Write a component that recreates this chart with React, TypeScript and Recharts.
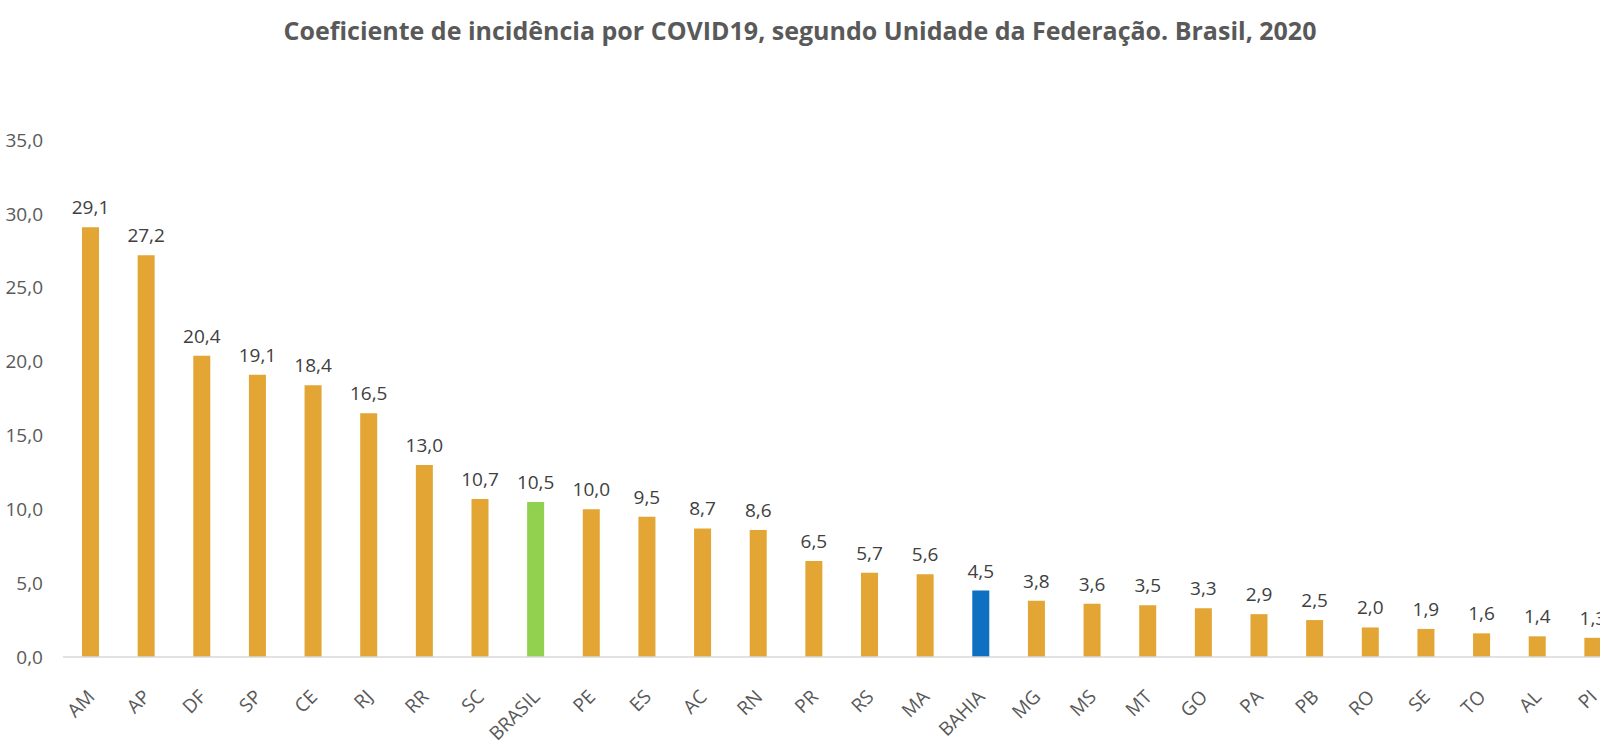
import React from 'react';
import { BarChart, Bar, XAxis, YAxis, Cell, LabelList } from 'recharts';

const states = [
  'AM', 'AP', 'DF', 'SP', 'CE', 'RJ', 'RR', 'SC', 'BRASIL', 'PE', 'ES', 'AC', 'RN', 'PR',
  'RS', 'MA', 'BAHIA', 'MG', 'MS', 'MT', 'GO', 'PA', 'PB', 'RO', 'SE', 'TO', 'AL', 'PI',
];
const incidence = [
  29.1, 27.2, 20.4, 19.1, 18.4, 16.5, 13.0, 10.7, 10.5, 10.0, 9.5, 8.7, 8.6, 6.5,
  5.7, 5.6, 4.5, 3.8, 3.6, 3.5, 3.3, 2.9, 2.5, 2.0, 1.9, 1.6, 1.4, 1.3,
];
const yTicks = [0, 5, 10, 15, 20, 25, 30, 35];

const TITLE = 'Coeficiente de incidência por COVID19, segundo Unidade da Federação. Brasil, 2020';
const FONT = '"Open Sans", sans-serif';

const data = states.map((uf, i) => ({ uf, value: incidence[i] }));

const barColor = (uf: string) => {
  if (uf === 'BRASIL') return '#92D050';
  if (uf === 'BAHIA') return '#0F6FC0';
  return '#E3A533';
};

// Excel style number: one decimal, comma separator
const fmt = (v: number) => v.toFixed(1).replace('.', ',');

const RotatedTick = (props: any) => {
  const { x, y, payload } = props;
  const px = x + 5;
  const py = y + 41;
  return (
    <text
      x={px}
      y={py}
      transform={`rotate(-45, ${px}, ${py})`}
      textAnchor="end"
      fill="#595959"
      fontSize={19}
      fontFamily={FONT}
    >
      {payload.value}
    </text>
  );
};

export default function App() {
  return (
    <div
      style={{
        position: 'fixed',
        left: 0,
        top: 0,
        width: 1600,
        height: 752,
        overflow: 'hidden',
        background: '#fff',
      }}
    >
      <div
        style={{
          position: 'absolute',
          top: 14,
          left: 0,
          width: 1600,
          textAlign: 'center',
          fontFamily: FONT,
          fontWeight: 700,
          fontSize: 25,
          color: '#595959',
          lineHeight: '32px',
          whiteSpace: 'nowrap',
        }}
      >
        {TITLE}
      </div>
      <div style={{ position: 'absolute', left: 0, top: 0 }}>
        <BarChart
          width={1640}
          height={752}
          data={data}
          margin={{ top: 140, right: 19, left: 0, bottom: 0 }}
        >
          <XAxis
            dataKey="uf"
            interval={0}
            axisLine={{ stroke: '#D9D9D9', strokeWidth: 1.5 }}
            tickLine={false}
            tickSize={0}
            tickMargin={0}
            height={95}
            tick={<RotatedTick />}
          />
          <YAxis
            width={63}
            domain={[0, 35]}
            ticks={yTicks}
            tickFormatter={fmt}
            axisLine={false}
            tickLine={false}
            tickSize={0}
            tickMargin={20}
            tick={{ fontSize: 19, fill: '#595959', fontFamily: FONT }}
          />
          <Bar dataKey="value" barSize={17} isAnimationActive={false}>
            {data.map((d) => (
              <Cell key={d.uf} fill={barColor(d.uf)} />
            ))}
            <LabelList
              dataKey="value"
              position="top"
              offset={13}
              formatter={(v: any) => fmt(Number(v))}
              style={{ fontSize: 19, fill: '#404040', fontFamily: FONT }}
            />
          </Bar>
        </BarChart>
      </div>
    </div>
  );
}
